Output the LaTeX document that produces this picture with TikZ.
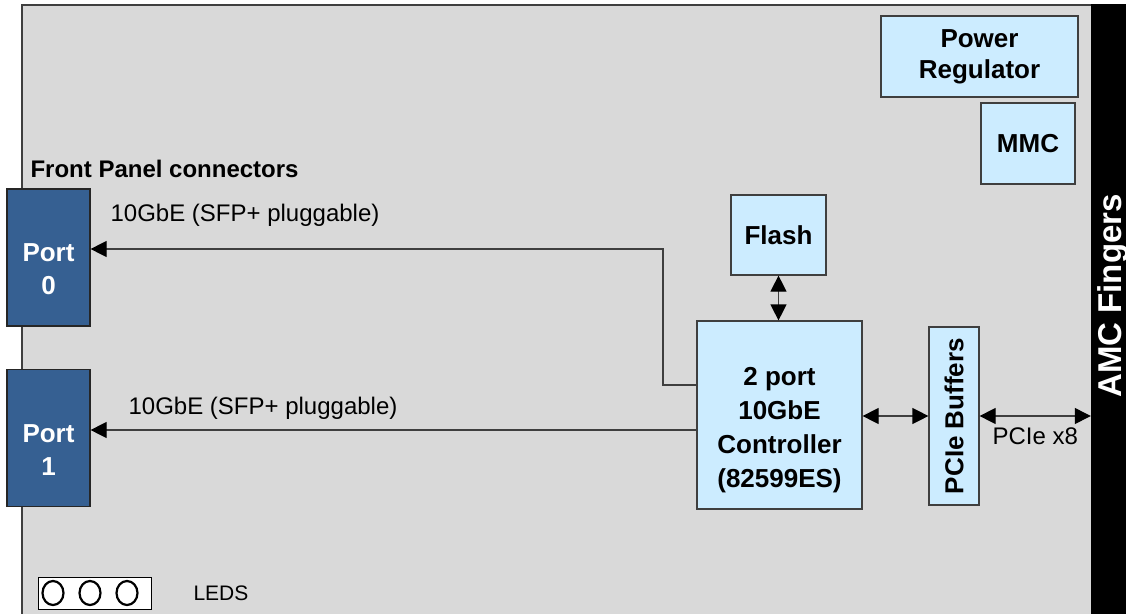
\documentclass[tikz,border=0pt]{standalone}
\usepackage{fontspec}
\setmainfont{Liberation Sans}
\usetikzlibrary{arrows.meta}
\definecolor{boardgry}{HTML}{D9D9D9}
\definecolor{edgegry}{HTML}{3F3F3F}
\definecolor{chipblu}{HTML}{CCECFF}
\definecolor{portblu}{HTML}{366092}

\begin{document}
\begin{tikzpicture}[x=1pt, y=-1pt,
  chip/.style={draw=edgegry, line width=1.2pt, fill=chipblu, inner sep=0pt, align=center, font=\fontsize{26}{31}\selectfont\bfseries},
  port/.style={draw=black!85, line width=1.2pt, fill=portblu, inner sep=0pt, minimum width=83pt, minimum height=137pt},
  porttxt/.style={text=white, align=center, font=\fontsize{26}{33}\selectfont\bfseries, yshift=-12pt},
  link/.style={line width=1.2pt, draw=edgegry, -{Triangle[length=16pt, width=16pt, color=black]}},
  dlink/.style={line width=1.2pt, draw=edgegry, {Triangle[length=16pt, width=16pt, color=black]}-{Triangle[length=16pt, width=16pt, color=black]}},
  lbl/.style={font=\fontsize{24}{28}\selectfont}]

\useasboundingbox (0,0) rectangle (1126,613);

% board outline
\fill[boardgry] (22,5) rectangle (1091,640);
\draw[edgegry, line width=1.2pt] (22,640) -- (22,5) -- (1091,5);

% AMC edge
\node[fill=black, inner sep=0pt, minimum width=35pt, minimum height=620pt] (fingers) at (1108.5,314) {};
\node[rotate=90, anchor=base, inner sep=0pt, text=white, font=\fontsize{33}{38}\selectfont\bfseries] (fingtxt) at (1121,296) {AMC Fingers};

\node[chip, minimum width=197pt, minimum height=81pt] (pwr) at (979.5,56.5) {Power\\Regulator};
\node[chip, minimum width=94pt, minimum height=81pt] (mmc) at (1028,143.5) {MMC};
\node[chip, minimum width=95pt, minimum height=80pt] (flash) at (778.5,235) {Flash};
\node[chip, minimum width=165pt, minimum height=188pt,
  label={[align=center, font=\fontsize{26}{34}\selectfont\bfseries, yshift=-15pt]center:2 port\\10GbE\\Controller\\(82599ES)}] (ctrl) at (779.5,415) {};
\node[chip, rotate=90, minimum width=178pt, minimum height=50pt] (buf) at (954,416) {PCIe Buffers};

\node[anchor=west, font=\fontsize{24}{28}\selectfont\bfseries] (fplbl) at (27,169) {Front Panel connectors};
\node[port, label={[porttxt]center:Port\\0}] (port0) at (48.5,257.5) {};
\node[port, label={[porttxt]center:Port\\1}] (port1) at (48.5,438) {};

% links to front panel
\coordinate (j0) at (663,385);
\coordinate (j1) at (663,249);
\draw[link] (ctrl.west |- j0) -- (j0) -- (j1) -- (j1 -| port0.east);
\node[lbl] (lnk0) at (245,215) {10GbE (SFP+ pluggable)};
\draw[link] ([yshift=-15pt]ctrl.west) -- ([yshift=-15pt]ctrl.west -| port1.east);
\node[lbl] (lnk1) at (263,408) {10GbE (SFP+ pluggable)};

% links to flash and PCIe
\draw[dlink] (flash.south) -- (flash.south |- ctrl.north);
\draw[dlink] (ctrl.east |- buf.center) -- (buf.north);
\draw[dlink] (buf.south) -- (buf.south -| fingers.west) node[lbl, below, midway, yshift=-8pt] (pcilbl) {PCIe x8};

% status leds
\node[draw=black, line width=1pt, fill=white, inner sep=0pt, minimum width=113pt, minimum height=32pt] (leds) at (94.5,593) {};
\foreach \cx in {53,90,127}
  \draw[line width=2.2pt] (\cx,593) ellipse (10.5 and 12);
\node[lbl, anchor=west, font=\fontsize{21}{25}\selectfont] (ledlbl) at (190,593) {LEDS};
\end{tikzpicture}
\end{document}
